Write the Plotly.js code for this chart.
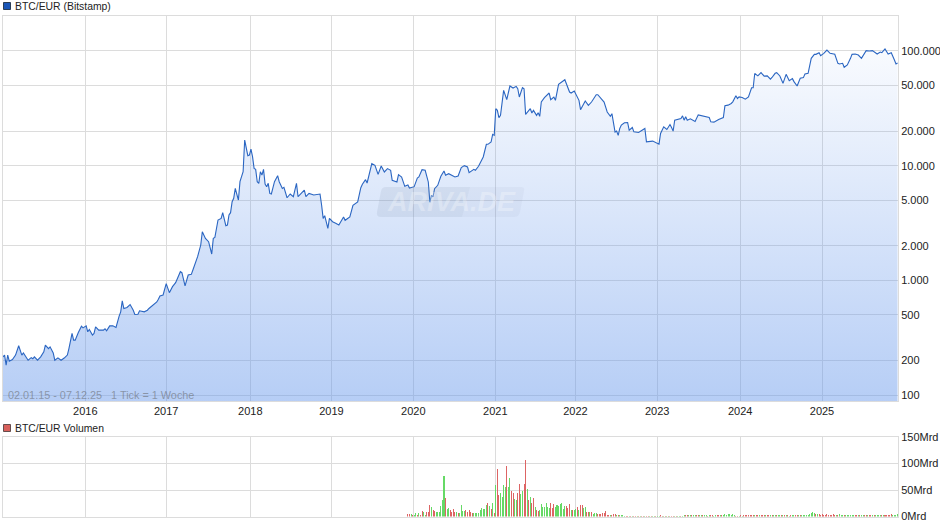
<!DOCTYPE html>
<html>
<head>
<meta charset="utf-8">
<script src="https://cdn.plot.ly/plotly-3.0.1.min.js"></script>
<style>html,body{margin:0;padding:0;background:#fff;overflow:hidden}</style>
</head>
<body>
<div id="chart" style="width:940px;height:526px"></div>
<script>
const startDate = "2015-01-02";
const endDate = "2025-12-07";
const priceWeeks = [
0,1,2,3,4,6,8,10,12,13, 16,18,19,20,22,24,26,27,29,30,
32,33,35,37,39,41,42,44,45,46, 48,50,51,53,54,55,57,58,59,61,
64,65,66,68,70,72,74,75,76,77, 79,81,83,84,86,87,90,92,93,96, 98,99,
100,102,104,106,108,110,113,114,116,118,
120,121,124,126,127,129,131,133,134,135,
137,139,140,142,143,144,145,146,147,148,
150,151,153,154,156,157,158,159,160,161,
162,163,164,165,166,167,168,169,170,171,
173,175,176,178,179,181,183,185,187,188,
192,193,195,198,202,203,204,205,207,208,
210,212,214,217,218,221,223,226,228,229,
231,232,235,237,239,241,243,245,247,248,
251,252,254,256,258,259,262,264,265,267,
269,271,272,273,274,275,277,279,281,282,
284,288,290,292,294,296,297,300,301,303,
306,308,309,311,312,313,314,315,316,317,
319,321,323,325,327,328,329,331,332,333,
336,337,338,340,341,342,343,345,348,349,
351,352,354,358,361,362,364,367,368,371,
373,375,378,379,382,383,385,387,388,390,
391,392,393,394,396,398,399,401,402,405,
409,410,414,418,419,421,423,425,426,427,
428,432,433,434,435,436,438,441,443,446,
450,451,453,456,459,460,462,464,465,467,
468,469,471,473,475,477,478,479,481,483,
485,487,489,490,492,493,495,497,499,501,
502,503,504,506,508,510,511,513,515,517,
518,520,521,523,525,527,530,532,533,535,
536,538,540,541,543,545,547,550,552,554,
557,559,560,562,564,566,568,569,570];
const priceValues = [
215,223,182,223,197,204,223,269,223,233, 201,212,207,215,201,215,238,272,254,263,
233,201,211,201,210,223,254,344,301,301, 351,398,385,401,356,373,333,344,393,368,
368,378,363,401,401,388,487,531,662,568, 580,615,549,504,506,542,531,549,568,619, 648,685,
730,745,935,781,881,955,1190,1166,893,1113,
1127,1230,1608,2032,2656,2323,2173,1697,2323,2371,
3357,3470,3890,2997,3036,3712,3890,4850,5187,6340,
5012,7247,8857,16730,12210,12380,13960,11970,9470,9290,
7247,7010,8857,8285,9290,6918,6555,7010,5730,5660,
7247,8175,7247,6340,6470,5250,5660,5360,7010,5360,
6130,5360,5730,5546,5660,4535,3470,3664,2840,3470,
3245,3139,3036,3569,3337,3569,4510,4823,6430,6876,
7550,7060,10410,10070,8403,9930,8810,9420,9105,7450,
7206,8347,7965,6606,6783,6388,6560,7807,7965,9227,
9105,7206,4790,5513,5332,6300,6737,8070,8985,8240,
8515,7965,8128,9607,10000,9736,8690,9290,9105,9870,
11900,15350,15350,16080,18760,18380,31390,30370,26220,27470,
45380,37600,49500,47530,49160,46900,39680,47860,46900,28020,
31390,28780,30370,27470,28970,26920,35890,39160,43010,37600,
39680,37120,51170,56200,43860,43010,44770,37120,30770,36640,
33570,35890,41590,41590,36640,35890,29370,26920,28400,19660,
20050,18380,21100,22570,23640,23800,20400,21520,19730,19470,
21100,16140,16370,15400,19090,21820,20700,22860,21520,20000,
24930,25800,27200,24930,26670,24930,25620,24280,27740,27040,
26300,24110,23970,25290,26300,33250,33700,34840,36020,40640,
38520,39810,39310,38010,39810,47730,47730,63650,60700,64900,
60330,60700,56800,58760,63880,64720,60550,52260,62600,55130,
56640,57400,54050,49540,57800,58570,62990,63880,86300,93520,
93520,96700,91060,95430,102000,95430,93520,78080,77000,78080,
72060,75500,86300,93520,94190,92250,86300,100700,100000,100700,
94190,98000,96700,104100,94190,96700,83480,77000,78600];
const volumeFirstWeek = 258;
const volumeMrd = [
5,4,5,3,3,7,3,6,3,11, 9,3,8,9,21,18,13,11,9,9,
9,20,32,77,35,15,16,13,9,15, 9,9,7,6,21,11,11,13,8,13,
9,7,7,7,7,7,13,16,15,15, 22,26,19,15,26,7,60,89,41,44,
37,60,56,96,56,73,49,44,33,31, 44,61,42,49,61,107,51,32,36,25,
35,18,13,11,13,23,18,18,25,18, 16,25,16,23,18,22,19,23,25,15,
20,20,16,23,13,13,13,15,18,13, 22,22,16,18,9,9,9,9,5,6,
7,5,5,5,7,7,11,3,2,3, 3,5,5,3,3,3,3,3,1.5,1.5,
1.2,1.5,1.2,1,1.5,1.5,1.2,1.5,1.2,1.5, 1.2,1,1.5,1,1.5,1.2,1.5,1,1.5,1.2,
1.5,2,1.2,1.5,1.2,1.5,1.2,1.5,1.2,1, 1.5,1.2,1.5,1.5,1.2,1.5,2,2.5,3,2.5,
2,2.5,3,2.5,2,2.5,2,2.5,2,2, 2,1.5,2,2,2.5,1.5,2,2,2.5,2,
2,2.5,4,3,4,4,3,4,3,1.5, 1.5,1.5,2,1.5,2,2.5,3,3.5,3,2.5,
3,2.5,2.5,2,2.5,2,2.5,3,2,2, 2.5,2,2,2.5,3,2,2,2.5,2,2,
2.5,2,2,1.5,2,2,2,2.5,2,2, 2,2,2.5,2.5,3,3,4,6,8,6,
5,4,4,3,4,3,3.5,4,3.5,3, 3.5,4,3.5,3,3.5,4,3,3,3.5,3,
3,3,3.5,3,3,3.5,3,3,3.5,3, 3,3,3.5,3,3,3,3.5,3,3,3.5,
3,3.5,3,3,3.5,3,3.5,3,4,3.5, 3,3.5,4];
const volumeDirection = [
"RRGRGGRGRR","GGRRRGRRGG","GGGGRGGRRR","RGRGGGGRRR","RRGGGGGGGG","GRGRGRGRRG",
"GGGRGGRRGG","RRGGRRGRGR","RGRRGGGGGG","GRRRGGGGGG","GRRRGRGGRG","RRGGRRGRGG",
"GRRRRRRRRG","RRRGRGGGGR","RGRGRRGRGR","RGRRGRGGRG","GRRGRGRGRR","GRGGRGGRRG",
"GRGGRRGGRG","GRGRRGGRRG","RGGGGGGGGR","RGRGRRRRRR","RGRRGRRRGR","RGRGGRGGRG",
"RGRGRGGRRG","RGGGGGGGGG","RGRRRRRRRR","RRRGRGGGRG","GGGGGRRGRG","GRRGRRGRGG",
"GGRGRRRRRG","GGG"].join("");
const yTickValues = [100,200,500,1000,2000,5000,10000,20000,50000,100000];
const yTickLabels = ["100","200","500","1.000","2.000","5.000","10.000","20.000","50.000","100.000"];
const yearTicks = ["2016-01-04","2016-12-30","2018-01-09","2019-01-06","2020-01-06","2021-01-06","2021-12-29","2022-12-29","2024-01-03","2025-01-02"];
const yearLabels = ["2016","2017","2018","2019","2020","2021","2022","2023","2024","2025"];
const volumeTicks = [0,50,100,150];
const volumeLabels = ["0Mrd","50Mrd","100Mrd","150Mrd"];

const weekDate = w => new Date(Date.parse(startDate + "T00:00:00Z") + w * 7 * 86400000).toISOString().slice(0,10);
const W = 940, H = 526;
const px = p => p / W, py = p => 1 - p / H;
const grid = "#dcdcdc", font = "Liberation Sans, Arial, sans-serif";

const volWeeks = volumeMrd.map((_, i) => weekDate(volumeFirstWeek + i));
const pick = d => {
  const x = [], y = [];
  volumeMrd.forEach((v, i) => { if (volumeDirection[i] === d) { x.push(volWeeks[i]); y.push(v * 1e9); } });
  return {x, y};
};
const red = pick("R"), green = pick("G");

const traces = [
  {type:"scatter", mode:"lines", x:priceWeeks.map(weekDate), y:priceValues, xaxis:"x", yaxis:"y",
   line:{color:"#2b66c2", width:1.1}, fill:"tozeroy",
   fillcolor:"rgba(100,150,235,0.25)",
   fillgradient:{type:"vertical", start:88.7, stop:201800, colorscale:[[0,"rgba(100,150,235,0.47)"],[1,"rgba(100,150,235,0.0)"]]},
   hoverinfo:"skip", showlegend:false},
  {type:"bar", x:green.x, y:green.y, xaxis:"x2", yaxis:"y2", width:4.5*86400000, marker:{color:"#66d966", line:{width:0}}, showlegend:false, hoverinfo:"skip"},
  {type:"bar", x:red.x, y:red.y, xaxis:"x2", yaxis:"y2", width:4.5*86400000, marker:{color:"#dd6464", line:{width:0}}, showlegend:false, hoverinfo:"skip"}
];

const xCommon = {type:"date", range:[startDate, endDate], tickmode:"array", tickvals:yearTicks, ticktext:yearLabels,
  showgrid:true, gridcolor:grid, gridwidth:1, showline:true, linecolor:grid, linewidth:1, mirror:true, zeroline:false, ticks:""};
const yCommon = {side:"right", tickmode:"array", showgrid:true, gridcolor:grid, gridwidth:1, showline:true, linecolor:grid,
  linewidth:1, mirror:true, zeroline:false, ticks:"", tickfont:{family:font, size:11, color:"#222"}};

const layout = {
  width:W, height:H, margin:{l:0,r:0,t:0,b:0}, paper_bgcolor:"#fff", plot_bgcolor:"#fff",
  font:{family:font, size:11, color:"#222"}, barmode:"overlay", bargap:0, showlegend:false,
  xaxis:Object.assign({}, xCommon, {domain:[px(3),px(898)], anchor:"y", tickfont:{family:font,size:11,color:"#222"}}),
  yaxis:Object.assign({}, yCommon, {type:"log", domain:[py(401),py(16)], anchor:"x",
    range:[2-6/114.7, 5+35/114.7], tickvals:yTickValues, ticktext:yTickLabels}),
  xaxis2:Object.assign({}, xCommon, {domain:[px(3),px(898)], anchor:"y2", showticklabels:false}),
  yaxis2:Object.assign({}, yCommon, {domain:[py(516.5),py(437)], anchor:"x2", range:[0,150e9],
    tickvals:volumeTicks.map(v=>v*1e9), ticktext:volumeLabels}),
  shapes:[
    {type:"rect", xref:"paper", yref:"paper", x0:px(3.5), x1:px(10.5), y0:py(2.5), y1:py(9.5), fillcolor:"#1a56b8", line:{color:"#123", width:0.8}},
    {type:"rect", xref:"paper", yref:"paper", x0:px(3.5), x1:px(10.5), y0:py(424.5), y1:py(431.5), fillcolor:"#d9605c", line:{color:"#433", width:0.8}},
    {type:"path", xref:"paper", yref:"paper", layer:"above",
     path:`M ${px(384)} ${py(187)} L ${px(470)} ${py(187)} L ${px(462)} ${py(217)} L ${px(381)} ${py(217)} Q ${px(376)} ${py(217)} ${px(377)} ${py(212)} L ${px(381)} ${py(191)} Q ${px(382)} ${py(187)} ${px(386)} ${py(187)} Z`,
     fillcolor:"rgba(90,105,140,0.10)", line:{width:0}},
    {type:"path", xref:"paper", yref:"paper", layer:"above",
     path:`M ${px(470)} ${py(187)} L ${px(521)} ${py(187)} Q ${px(525)} ${py(187)} ${px(524)} ${py(191)} L ${px(520)} ${py(212)} Q ${px(519)} ${py(217)} ${px(514)} ${py(217)} L ${px(462)} ${py(217)} Z`,
     fillcolor:"rgba(90,105,140,0.05)", line:{width:0}}
  ],
  annotations:[
    {text:"BTC/EUR (Bitstamp)", xref:"paper", yref:"paper", x:px(13), y:py(6.5), xanchor:"left", yanchor:"middle", showarrow:false, font:{family:font,size:10.4,color:"#222"}},
    {text:"BTC/EUR Volumen", xref:"paper", yref:"paper", x:px(13), y:py(428), xanchor:"left", yanchor:"middle", showarrow:false, font:{family:font,size:10.4,color:"#222"}},
    {text:"02.01.15 - 07.12.25   1 Tick = 1 Woche", xref:"paper", yref:"paper", x:px(6), y:py(395), xanchor:"left", yanchor:"middle", showarrow:false, font:{family:font,size:10.85,color:"rgba(90,90,90,0.5)"}},
    {text:"<b><i>ARIVA.DE</i></b>", xref:"paper", yref:"paper", x:px(451), y:py(202), xanchor:"center", yanchor:"middle", showarrow:false, font:{family:font,size:27,color:"rgba(255,255,255,0.28)"}}
  ]
};
Plotly.newPlot("chart", traces, layout, {staticPlot:true, displayModeBar:false});
</script>
</body>
</html>
